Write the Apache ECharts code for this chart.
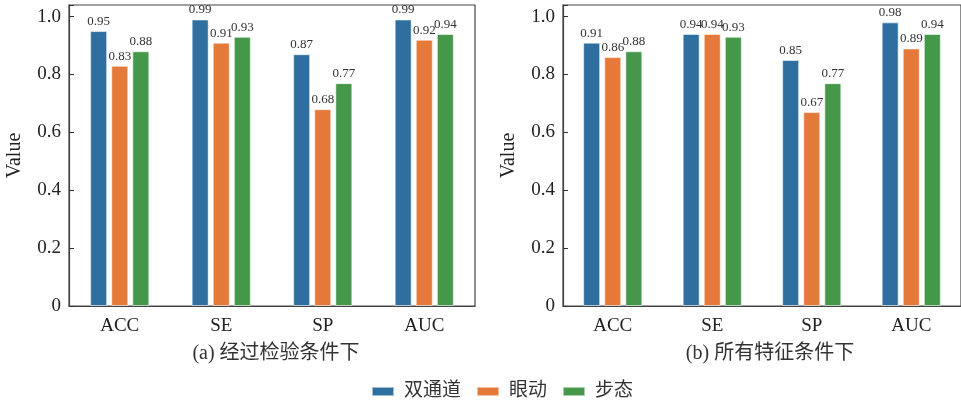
<!DOCTYPE html>
<html>
<head>
<meta charset="utf-8">
<script src="https://cdn.jsdelivr.net/npm/echarts@6/dist/echarts.min.js"></script>
<style>
  html, body { margin: 0; padding: 0; background: #fff; }
  #chart { width: 961px; height: 404px; }
</style>
</head>
<body>
<div id="chart"></div>
<script>
// Metric categories and per-modality scores for the two feature settings
const categories = ['ACC', 'SE', 'SP', 'AUC'];
const seriesNames = ['双通道', '眼动', '步态'];
const panelTitles = ['(a) 经过检验条件下', '(b) 所有特征条件下'];

const dualA = [0.95, 0.99, 0.87, 0.99];
const eyeA  = [0.83, 0.91, 0.68, 0.92];
const gaitA = [0.88, 0.93, 0.77, 0.94];

const dualB = [0.91, 0.94, 0.85, 0.98];
const eyeB  = [0.86, 0.94, 0.67, 0.89];
const gaitB = [0.88, 0.93, 0.77, 0.94];

const colors = ['#2e6f9f', '#e5793a', '#45974a'];
const serif = '"Liberation Serif", "Noto Sans CJK SC", serif';
const cjk = '"Liberation Serif", "Noto Sans CJK SC", sans-serif';

const chart = echarts.init(document.getElementById('chart'), null, { renderer: 'canvas' });

const grids = [
  { left: 69, top: 5, width: 406, height: 301 },
  { left: 563, top: 5, width: 404, height: 301 }
];

function xAxis(i) {
  return {
    type: 'category', gridIndex: i, data: categories,
    axisLine: { lineStyle: { color: '#444', width: 1.2 } },
    axisTick: { inside: true, alignWithLabel: true, length: 5, lineStyle: { color: '#333' } },
    axisLabel: { color: '#222', fontFamily: serif, fontSize: 19, margin: 11 }
  };
}
function yAxis(i) {
  return {
    type: 'value', gridIndex: i, min: 0, max: 1.04, interval: 0.2,
    name: 'Value', nameLocation: 'middle', nameGap: 44, nameRotate: 90,
    nameTextStyle: { color: '#222', fontFamily: serif, fontSize: 20 },
    axisLine: { show: true, lineStyle: { color: '#444', width: 1.2 } },
    axisTick: { show: true, inside: true, length: 5, lineStyle: { color: '#333' } },
    splitLine: { show: false },
    axisLabel: {
      color: '#222', fontFamily: serif, fontSize: 19, margin: 8,
      formatter: v => (v > 1.001 ? '' : (v === 0 ? '0' : v.toFixed(1)))
    }
  };
}
function bar(name, data, color, idx) {
  return {
    name, type: 'bar', xAxisIndex: idx, yAxisIndex: idx, data,
    barWidth: 17, barGap: '24%',
    itemStyle: { color, borderColor: 'rgba(255,255,255,0.55)', borderWidth: 1 },
    label: {
      show: true, position: 'top', distance: 3,
      color: '#333', fontFamily: serif, fontSize: 13,
      formatter: p => p.value.toFixed(2)
    }
  };
}

const option = {
  backgroundColor: '#fff',
  animation: false,
  color: colors,
  grid: grids.map(g => Object.assign({ show: true, borderColor: '#444', borderWidth: 1.2, backgroundColor: 'transparent' }, g)),
  xAxis: [xAxis(0), xAxis(1)],
  yAxis: [yAxis(0), yAxis(1)],
  title: [
    { text: panelTitles[0], left: 271, top: 339, textAlign: 'center',
      textStyle: { fontFamily: cjk, fontSize: 20, fontWeight: 'normal', color: '#333' } },
    { text: panelTitles[1], left: 765, top: 339, textAlign: 'center',
      textStyle: { fontFamily: cjk, fontSize: 20, fontWeight: 'normal', color: '#333' } }
  ],
  legend: {
    data: seriesNames, top: 382, left: 371, padding: 0,
    itemWidth: 22, itemHeight: 9, itemGap: 15,
    icon: 'rect',
    textStyle: { fontFamily: cjk, fontSize: 19, color: '#333', padding: [0, 0, 0, 5] }
  },
  series: [
    bar(seriesNames[0], dualA, colors[0], 0),
    bar(seriesNames[1], eyeA, colors[1], 0),
    bar(seriesNames[2], gaitA, colors[2], 0),
    bar(seriesNames[0], dualB, colors[0], 1),
    bar(seriesNames[1], eyeB, colors[1], 1),
    bar(seriesNames[2], gaitB, colors[2], 1)
  ]
};
chart.setOption(option);
</script>
</body>
</html>
